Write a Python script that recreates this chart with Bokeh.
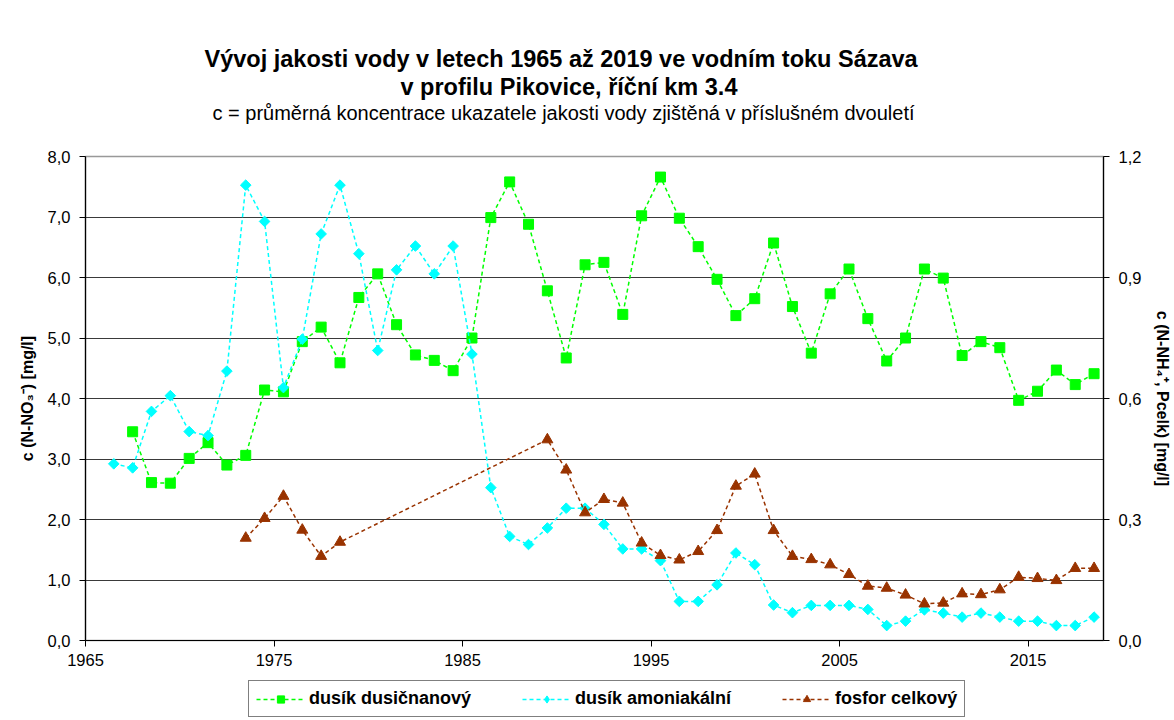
from bokeh.plotting import figure
from bokeh.layouts import column
from bokeh.models import (Range1d, LinearAxis, FixedTicker, CustomJSTickFormatter,
                          Legend, LegendItem, Title)
from bokeh.embed import file_html
from bokeh.resources import INLINE

# ---------------- data ----------------
years_no3 = [1967.5, 1968.5, 1969.5, 1970.5, 1971.5, 1972.5, 1973.5, 1974.5, 1975.5, 1976.5,
             1977.5, 1978.5, 1979.5, 1980.5, 1981.5, 1982.5, 1983.5, 1984.5, 1985.5, 1986.5,
             1987.5, 1988.5, 1989.5, 1990.5, 1991.5, 1992.5, 1993.5, 1994.5, 1995.5, 1996.5,
             1997.5, 1998.5, 1999.5, 2000.5, 2001.5, 2002.5, 2003.5, 2004.5, 2005.5, 2006.5,
             2007.5, 2008.5, 2009.5, 2010.5, 2011.5, 2012.5, 2013.5, 2014.5, 2015.5, 2016.5,
             2017.5, 2018.5]
no3 = [3.45, 2.61, 2.60, 3.01, 3.27, 2.90, 3.06, 4.14, 4.11, 4.94,
       5.18, 4.59, 5.67, 6.06, 5.22, 4.72, 4.63, 4.46, 5.00, 6.99,
       7.58, 6.88, 5.78, 4.67, 6.21, 6.25, 5.39, 7.02, 7.66, 6.98,
       6.51, 5.97, 5.37, 5.65, 6.57, 5.52, 4.75, 5.73, 6.14, 5.32,
       4.62, 5.00, 6.14, 5.99, 4.71, 4.94, 4.84, 3.97, 4.12, 4.47,
       4.23, 4.41]

years_nh4 = [1966.5, 1967.5, 1968.5, 1969.5, 1970.5, 1971.5, 1972.5, 1973.5, 1974.5, 1975.5,
             1976.5, 1977.5, 1978.5, 1979.5, 1980.5, 1981.5, 1982.5, 1983.5, 1984.5, 1985.5,
             1986.5, 1987.5, 1988.5, 1989.5, 1990.5, 1991.5, 1992.5, 1993.5, 1994.5, 1995.5,
             1996.5, 1997.5, 1998.5, 1999.5, 2000.5, 2001.5, 2002.5, 2003.5, 2004.5, 2005.5,
             2006.5, 2007.5, 2008.5, 2009.5, 2010.5, 2011.5, 2012.5, 2013.5, 2014.5, 2015.5,
             2016.5, 2017.5, 2018.5]
nh4 = [0.438, 0.428, 0.568, 0.607, 0.518, 0.508, 0.668, 1.129, 1.039, 0.627,
       0.747, 1.008, 1.129, 0.959, 0.719, 0.919, 0.978, 0.909, 0.978, 0.710,
       0.379, 0.258, 0.238, 0.279, 0.328, 0.328, 0.288, 0.227, 0.227, 0.198,
       0.097, 0.097, 0.138, 0.217, 0.188, 0.088, 0.069, 0.087, 0.087, 0.087,
       0.077, 0.037, 0.048, 0.076, 0.068, 0.058, 0.068, 0.058, 0.048, 0.048,
       0.037, 0.037, 0.058]

years_p = [1973.5, 1974.5, 1975.5, 1976.5, 1977.5, 1978.5,
           1989.5, 1990.5, 1991.5, 1992.5, 1993.5, 1994.5, 1995.5, 1996.5, 1997.5, 1998.5,
           1999.5, 2000.5, 2001.5, 2002.5, 2003.5, 2004.5, 2005.5, 2006.5, 2007.5, 2008.5,
           2009.5, 2010.5, 2011.5, 2012.5, 2013.5, 2014.5, 2015.5, 2016.5, 2017.5, 2018.5]
p_celk = [0.254, 0.303, 0.358, 0.274, 0.209, 0.244,
          0.498, 0.423, 0.317, 0.350, 0.341, 0.242, 0.211, 0.200, 0.221, 0.273,
          0.383, 0.413, 0.273, 0.209, 0.201, 0.188, 0.164, 0.135, 0.130, 0.113,
          0.091, 0.093, 0.116, 0.114, 0.126, 0.157, 0.154, 0.149, 0.179, 0.179]

x_ticks = [1965, 1975, 1985, 1995, 2005, 2015]
left_ticks = [0, 1, 2, 3, 4, 5, 6, 7, 8]
right_ticks = [0.0, 0.3, 0.6, 0.9, 1.2]

names = ["dusík dusičnanový", "dusík amoniakální", "fosfor celkový"]
title1 = "Vývoj jakosti vody v letech 1965 až 2019 ve vodním toku Sázava"
title2 = "v profilu Pikovice, říční km 3.4"
subtitle = "c = průměrná koncentrace ukazatele jakosti vody zjištěná v příslušném dvouletí"

FONT = "Arial"
GREEN = "#00FF00"
CYAN = "#00FFFF"
BROWN = "#993300"

# ---------------- main figure ----------------
p = figure(width=1174, height=680, output_backend="svg", toolbar_location=None,
           x_range=Range1d(1965, 2019), y_range=Range1d(0, 8),
           min_border_left=85, min_border_right=70, min_border_top=156, min_border_bottom=40,
           background_fill_color="white", border_fill_color="white")
p.extra_y_ranges = {"r": Range1d(0, 1.2)}

p.outline_line_color = "#999999"
p.outline_line_width = 1.5
p.xgrid.grid_line_color = None
p.ygrid.grid_line_color = "#3a3a3a"
p.ygrid.grid_line_width = 1.2
p.ygrid.ticker = FixedTicker(ticks=left_ticks)

fmt = CustomJSTickFormatter(code="return tick.toFixed(1).replace('.', ',');")


def style_axis(ax, standoff):
    ax.major_label_text_font = FONT
    ax.major_label_text_font_size = "16.5px"
    ax.major_label_text_color = "black"
    ax.axis_line_color = "black"
    ax.axis_line_width = 1.2
    ax.major_tick_line_color = "black"
    ax.major_tick_in = 0
    ax.major_tick_out = 6
    ax.minor_tick_line_color = None
    ax.major_label_standoff = standoff
    ax.axis_label_text_font = FONT
    ax.axis_label_text_font_style = "bold"
    ax.axis_label_text_font_size = "16px"
    ax.axis_label_text_color = "black"


xa = p.xaxis[0]
xa.ticker = FixedTicker(ticks=x_ticks)
style_axis(xa, 7)

ya = p.yaxis[0]
ya.ticker = FixedTicker(ticks=left_ticks)
ya.formatter = fmt
style_axis(ya, 9)
ya.axis_label = "c (N-NO₃⁻) [mg/l]"
ya.axis_label_standoff = 9

ra = LinearAxis(y_range_name="r", ticker=FixedTicker(ticks=right_ticks), formatter=fmt)
style_axis(ra, 9)
ra.axis_label = "c (N-NH₄⁺, Pcelk) [mg/l]"
ra.axis_label_standoff = 10
p.add_layout(ra, "right")

# series
l1 = p.line(years_no3, no3, line_color=GREEN, line_width=1.5, line_dash="4 3")
m1 = p.scatter(years_no3, no3, marker="square", size=10, fill_color=GREEN, line_color=GREEN)
l2 = p.line(years_nh4, nh4, line_color=CYAN, line_width=1.5, line_dash="4 3", y_range_name="r")
m2 = p.scatter(years_nh4, nh4, marker="square", angle=0.7854, size=7.5, fill_color=CYAN,
               line_color=CYAN, y_range_name="r")
l3 = p.line(years_p, p_celk, line_color=BROWN, line_width=1.5, line_dash="4 3", y_range_name="r")
m3 = p.scatter(years_p, p_celk, marker="triangle", size=11, fill_color=BROWN, line_color=BROWN,
               y_range_name="r")

# titles (first added sits closest to the plot frame)
p.add_layout(Title(text=" ", text_font=FONT, text_font_size="1px", standoff=30), "above")
p.add_layout(Title(text=subtitle, text_font=FONT, text_font_size="20px",
                   text_font_style="normal", text_color="black", align="left",
                   offset=127, standoff=0), "above")
p.add_layout(Title(text=title2, text_font=FONT, text_font_size="23.5px",
                   text_font_style="bold", text_color="black", align="left",
                   offset=315, standoff=0), "above")
p.add_layout(Title(text=title1, text_font=FONT, text_font_size="23.5px",
                   text_font_style="bold", text_color="black", align="left",
                   offset=119, standoff=0), "above")

# ---------------- legend strip ----------------
lg = figure(width=1174, height=40, output_backend="svg", toolbar_location=None,
            x_range=Range1d(0, 1), y_range=Range1d(0, 1),
            x_axis_location=None, y_axis_location=None,
            min_border=0, background_fill_color="white", border_fill_color="white")
lg.outline_line_color = None
lg.grid.grid_line_color = None
k1 = lg.line(years_no3, no3, line_color=GREEN, line_width=1.5, line_dash="4 3")
n1 = lg.scatter(years_no3, no3, marker="square", size=10, fill_color=GREEN, line_color=GREEN)
k2 = lg.line(years_nh4, nh4, line_color=CYAN, line_width=1.5, line_dash="4 3")
n2 = lg.scatter(years_nh4, nh4, marker="diamond", size=14, fill_color=CYAN, line_color=CYAN)
k3 = lg.line(years_p, p_celk, line_color=BROWN, line_width=1.5, line_dash="4 3")
n3 = lg.scatter(years_p, p_celk, marker="triangle", size=11, fill_color=BROWN, line_color=BROWN)

legend = Legend(items=[LegendItem(label=names[0], renderers=[k1, n1]),
                       LegendItem(label=names[1], renderers=[k2, n2]),
                       LegendItem(label=names[2], renderers=[k3, n3])],
                orientation="horizontal", location=(163, 3),
                label_text_font=FONT, label_text_font_style="bold",
                label_text_font_size="18px", label_text_color="black",
                border_line_color="black", border_line_width=1,
                background_fill_alpha=1, glyph_width=49, glyph_height=18,
                spacing=51, padding=7, margin=0, label_standoff=4)
lg.add_layout(legend, "center")

open("out.html", "w").write(file_html(column(p, lg), INLINE))
